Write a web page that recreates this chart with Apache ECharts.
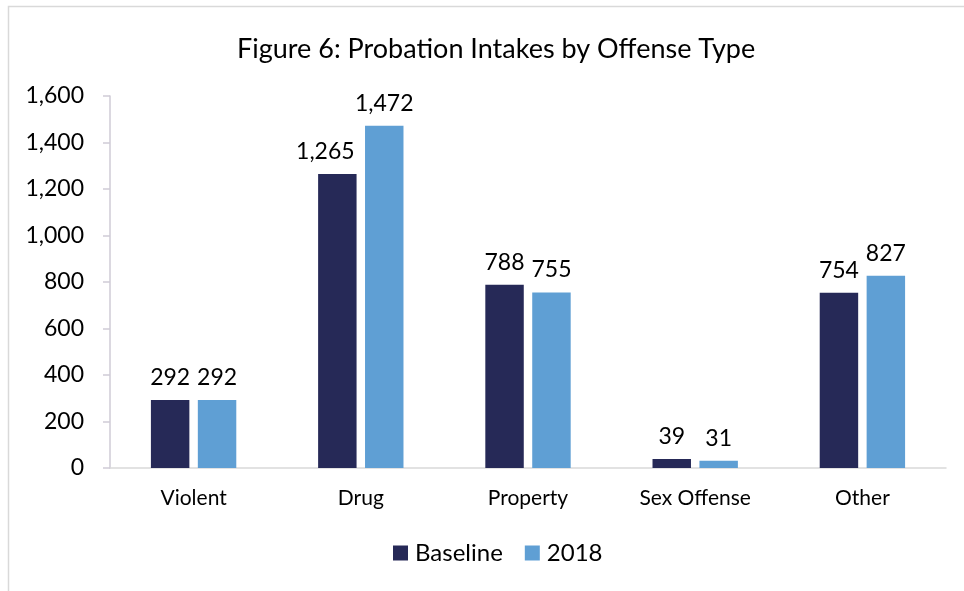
<!DOCTYPE html>
<html>
<head>
<meta charset="utf-8">
<script src="https://cdn.jsdelivr.net/npm/echarts@6/dist/echarts.min.js"></script>
<style>
  html, body { margin: 0; padding: 0; background: #fff; }
  #chart { width: 964px; height: 591px; }
</style>
</head>
<body>
<div id="chart"></div>
<script>
// Offense categories and intake counts
const categories = ['Violent', 'Drug', 'Property', 'Sex Offense', 'Other'];
const baselineValues = [292, 1265, 788, 39, 754];
const values2018 = [292, 1472, 755, 31, 827];
const seriesNames = ['Baseline', '2018'];
const yTicks = { min: 0, max: 1600, interval: 200 };

const FONT = 'Lato, "Open Sans", sans-serif';
const fmt = v => v.toLocaleString('en-US');

const chart = echarts.init(document.getElementById('chart'), null, { renderer: 'canvas' });

const labelStyle = {
  show: true,
  position: 'top',
  distance: 11,
  color: '#000',
  fontFamily: FONT,
  fontSize: 23,
  formatter: p => fmt(p.value)
};

// nudge the Drug baseline label left so it clears the taller neighbour
const baselineData = baselineValues.map((v, i) =>
  i === 1 ? { value: v, label: { offset: [-12, 0] } } : v
);

chart.setOption({
  backgroundColor: '#fff',
  animation: false,
  title: {
    text: 'Figure 6: Probation Intakes by Offense Type',
    left: 232,
    top: 31,
    textStyle: { fontFamily: FONT, fontSize: 27, fontWeight: 'normal', color: '#000' }
  },
  graphic: [{
    type: 'rect',
    shape: { x: 8.5, y: 6.5, width: 1000, height: 1000 },
    style: { fill: 'none', stroke: '#d9d9d9', lineWidth: 1.5 },
    silent: true
  }],
  legend: {
    data: seriesNames,
    bottom: 21,
    left: 388,
    itemWidth: 15,
    itemHeight: 15,
    itemGap: 22,
    icon: 'rect',
    textStyle: { fontFamily: FONT, fontSize: 24, color: '#000', padding: [0, 0, 0, 2] }
  },
  grid: { left: 110, right: 18, top: 96, bottom: 123, containLabel: false },
  xAxis: {
    type: 'category',
    data: categories,
    axisLine: { show: true, lineStyle: { color: '#d9d9d9', width: 1.5 } },
    axisTick: { show: false },
    axisLabel: { fontFamily: FONT, fontSize: 21, color: '#000', margin: 20 }
  },
  yAxis: {
    type: 'value',
    min: yTicks.min,
    max: yTicks.max,
    interval: yTicks.interval,
    splitLine: { show: false },
    axisLine: { show: true, lineStyle: { color: '#cfcbd6', width: 1.5 } },
    axisTick: { show: true, length: 7, inside: false, lineStyle: { color: '#cfcbd6', width: 1.5 } },
    axisLabel: { fontFamily: FONT, fontSize: 23, color: '#000', margin: 26, formatter: v => fmt(v) }
  },
  series: [
    {
      name: seriesNames[0],
      type: 'bar',
      data: baselineData,
      barWidth: '23%',
      barGap: '22%',
      itemStyle: { color: '#262957' },
      label: labelStyle
    },
    {
      name: seriesNames[1],
      type: 'bar',
      data: values2018,
      barWidth: '23%',
      itemStyle: { color: '#5f9fd4' },
      label: labelStyle
    }
  ]
});
</script>
</body>
</html>
